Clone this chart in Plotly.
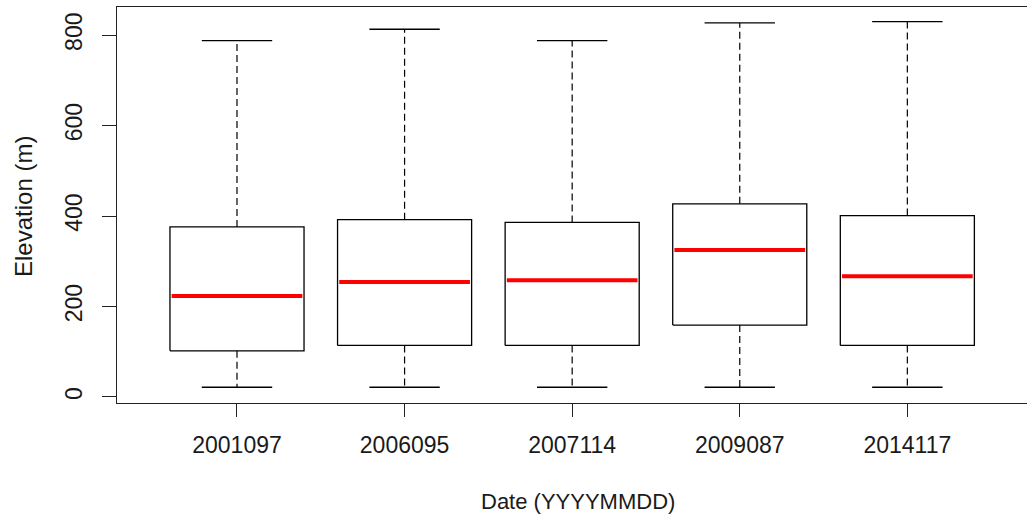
import plotly.graph_objects as go

categories = ["2001097", "2006095", "2007114", "2009087", "2014117"]
lower_whisker = [21.5, 21.5, 21.5, 21.5, 21.5]
q1_values = [102, 114, 114, 159, 114]
median_values = [223, 254, 258, 325, 267]
q3_values = [376, 392, 386, 427, 401]
upper_whisker = [788, 813, 788, 827, 830]
y_ticks = [0, 200, 400, 600, 800]

BOX_HALF = 0.4
CAP_HALF = 0.21
FONT = "Liberation Sans, Arial, sans-serif"
TICK_FS = 23
TITLE_FS = 22

fig = go.Figure()
for i, cat in enumerate(categories):
    x = i + 1
    # whiskers (dashed)
    fig.add_trace(go.Scatter(
        x=[x, x, None, x, x],
        y=[q3_values[i], upper_whisker[i], None, q1_values[i], lower_whisker[i]],
        mode="lines", line=dict(color="#000000", width=1.2, dash="7px,4px"),
        hoverinfo="skip", showlegend=False))
    # caps
    fig.add_trace(go.Scatter(
        x=[x - CAP_HALF, x + CAP_HALF, None, x - CAP_HALF, x + CAP_HALF],
        y=[upper_whisker[i], upper_whisker[i], None, lower_whisker[i], lower_whisker[i]],
        mode="lines", line=dict(color="#000000", width=1.3),
        hoverinfo="skip", showlegend=False))
    # box
    fig.add_trace(go.Scatter(
        x=[x - BOX_HALF, x + BOX_HALF, x + BOX_HALF, x - BOX_HALF, x - BOX_HALF],
        y=[q1_values[i], q1_values[i], q3_values[i], q3_values[i], q1_values[i]],
        mode="lines", line=dict(color="#000000", width=1.3),
        hoverinfo="skip", showlegend=False))
    # median
    fig.add_trace(go.Scatter(
        x=[x - BOX_HALF + 0.01, x + BOX_HALF - 0.01],
        y=[median_values[i], median_values[i]],
        mode="lines", line=dict(color="#ff0000", width=4),
        hoverinfo="skip", showlegend=False))

fig.update_layout(
    width=1027, height=518,
    margin=dict(l=117, r=0, t=7, b=115, pad=0),
    paper_bgcolor="white", plot_bgcolor="white",
    font=dict(family=FONT, size=TICK_FS, color="#1a1a1a"),
    xaxis=dict(
        range=[0.284, 5.714], tickvals=[1, 2, 3, 4, 5], ticktext=categories,
        showgrid=False, zeroline=False, showline=True, mirror=True,
        linecolor="#222222", linewidth=1.3,
        ticks="outside", ticklen=13, tickwidth=1.2, tickcolor="#222222",
        ticklabelstandoff=8,
        tickfont=dict(family=FONT, size=TICK_FS, color="#1a1a1a"),
    ),
    yaxis=dict(
        range=[-13.3, 862.2], tickvals=y_ticks,
        showgrid=False, zeroline=False, showline=True, mirror=False,
        linecolor="#222222", linewidth=1.3,
        ticks="outside", ticklen=14, tickwidth=1.2, tickcolor="#222222",
        tickangle=-90, ticklabelstandoff=11,
        tickfont=dict(family=FONT, size=TICK_FS, color="#1a1a1a"),
    ),
    annotations=[
        dict(text="Elevation (m)", xref="paper", yref="paper",
             x=(24 - 117) / 910, y=(403 - 207) / 396, xanchor="center", yanchor="middle",
             textangle=-90, showarrow=False,
             font=dict(family=FONT, size=24, color="#1a1a1a")),
        dict(text="Date (YYYYMMDD)", xref="paper", yref="paper",
             x=(577.5 - 117) / 910, y=(403 - 501) / 396, xanchor="center", yanchor="middle",
             showarrow=False,
             font=dict(family=FONT, size=TITLE_FS, color="#1a1a1a")),
    ],
)

fig.write_html("out.html")
